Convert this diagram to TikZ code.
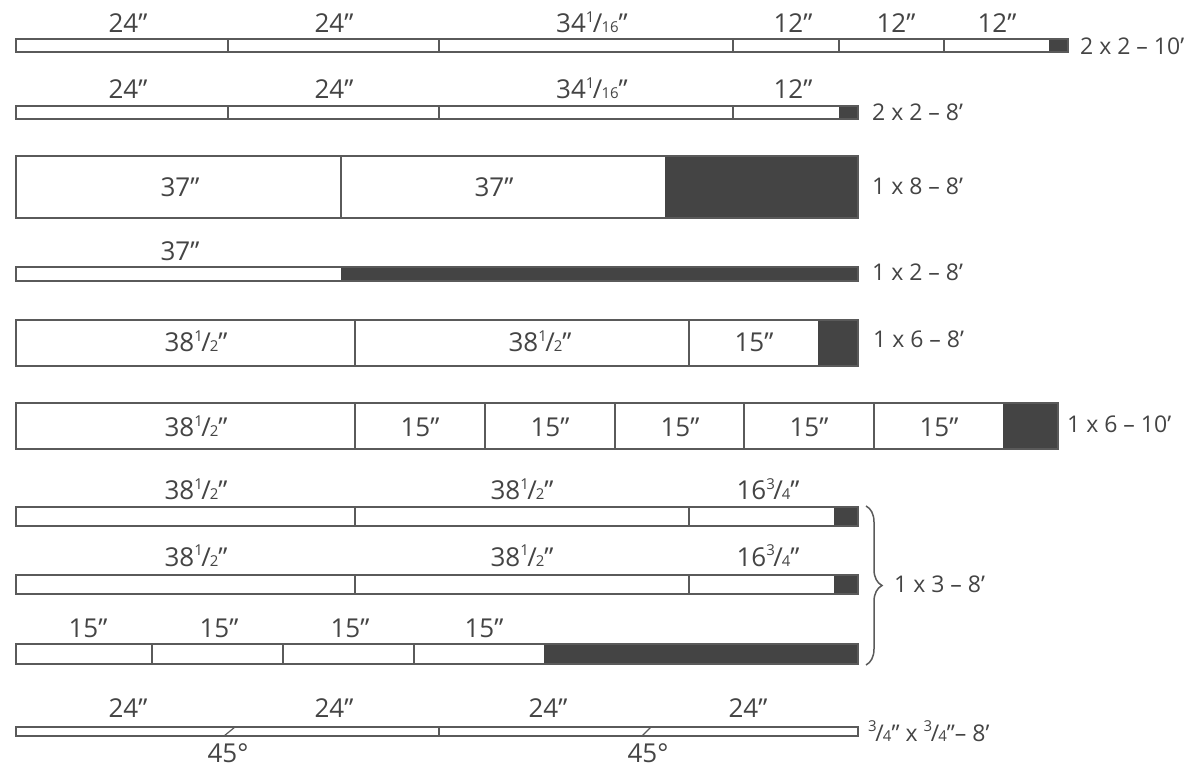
\documentclass[tikz,border=0pt]{standalone}
\usepackage{fontspec}
\setmainfont{Open Sans}
\usetikzlibrary{decorations.pathreplacing}
\definecolor{ink}{HTML}{444444}
\definecolor{edge}{HTML}{5A5A5A}
\tikzset{
  board/.style={draw=edge, line width=1.4pt, fill=white},
  cutline/.style={draw=edge, line width=1.2pt},
  endfill/.style={fill=ink, draw=ink, line width=0.6pt},
  len/.style={text=ink, font=\fontsize{26}{26}\selectfont, inner sep=0pt, anchor=base},
  tag/.style={text=ink, font=\fontsize{23}{23}\selectfont, inner sep=0pt, anchor=base west},
  bracestyle/.style={draw=edge, line width=1.5pt, decorate, decoration={brace, amplitude=16pt}},
}
\newcommand\myfr[2]{\raisebox{0.40em}{\fontsize{15}{15}\selectfont #1}\kern-0.06em/\kern-0.04em{\fontsize{15}{15}\selectfont #2}}
\newcommand\plank[4]{% y1, y2, xend, blackstart
  \draw[board] (16,#1) rectangle (#3,#2);
  \fill[endfill] (#4,#1) rectangle (#3,#2);
  \draw[board, fill=none] (16,#1) rectangle (#3,#2);
}
\begin{document}
\begin{tikzpicture}[x=1pt, y=-1pt]
\useasboundingbox (0,0) rectangle (1200,775);

% Row 1: 2x2-10'
\plank{39}{52}{1068}{1049}
\foreach \d in {228,439,733,839,944} \draw[cutline] (\d,39) -- (\d,52);
\node[len] (r1a) at (128,33) {24”};
\node[len] (r1b) at (334,33) {24”};
\node[len] (r1c) at (592,33) {34\myfr{1}{16}”};
\node[len] (r1d) at (793,33) {12”};
\node[len] (r1e) at (896,33) {12”};
\node[len] (r1f) at (997,33) {12”};
\node[tag] (t1) at (1080,55) {2 x 2 – 10’};

% Row 2: 2x2-8'
\plank{106}{119}{858}{839}
\foreach \d in {228,439,733} \draw[cutline] (\d,106) -- (\d,119);
\node[len] (r2a) at (128,99) {24”};
\node[len] (r2b) at (334,99) {24”};
\node[len] (r2c) at (592,99) {34\myfr{1}{16}”};
\node[len] (r2d) at (793,99) {12”};
\node[tag] (t2) at (872,121) {2 x 2 – 8’};

% Row 3: 1x8-8'
\plank{156}{218}{858}{665}
\draw[cutline] (341,156) -- (341,218);
\node[len] (r3a) at (180,197) {37”};
\node[len] (r3b) at (494,197) {37”};
\node[tag] (t3) at (872,195) {1 x 8 – 8’};

% Row 4: 1x2-8'
\plank{267}{281}{858}{341}
\node[len] (r4a) at (180,261) {37”};
\node[tag] (t4) at (872,281) {1 x 2 – 8’};

% Row 5: 1x6-8'
\plank{320}{366}{858}{818}
\foreach \d in {355,689} \draw[cutline] (\d,320) -- (\d,366);
\node[len] (r5a) at (196,352) {38\myfr{1}{2}”};
\node[len] (r5b) at (540,352) {38\myfr{1}{2}”};
\node[len] (r5c) at (754,352) {15”};
\node[tag] (t5) at (873,348) {1 x 6 – 8’};

% Row 6: 1x6-10'
\plank{403}{449}{1058}{1003}
\foreach \d in {355,485,615,744,874} \draw[cutline] (\d,403) -- (\d,449);
\node[len] (r6a) at (196,437) {38\myfr{1}{2}”};
\node[len] (r6b) at (420,437) {15”};
\node[len] (r6c) at (550,437) {15”};
\node[len] (r6d) at (680,437) {15”};
\node[len] (r6e) at (809,437) {15”};
\node[len] (r6f) at (939,437) {15”};
\node[tag] (t6) at (1067,433) {1 x 6 – 10’};

% Row 7
\plank{507}{526}{858}{834}
\foreach \d in {355,689} \draw[cutline] (\d,507) -- (\d,526);
\node[len] (r7a) at (196,500) {38\myfr{1}{2}”};
\node[len] (r7b) at (522,500) {38\myfr{1}{2}”};
\node[len] (r7c) at (768,500) {16\myfr{3}{4}”};

% Row 8
\plank{575}{594}{858}{834}
\foreach \d in {355,689} \draw[cutline] (\d,575) -- (\d,594);
\node[len] (r8a) at (196,566) {38\myfr{1}{2}”};
\node[len] (r8b) at (522,566) {38\myfr{1}{2}”};
\node[len] (r8c) at (768,566) {16\myfr{3}{4}”};

% Row 9
\plank{644}{664}{858}{544}
\foreach \d in {152,283,414} \draw[cutline] (\d,644) -- (\d,664);
\node[len] (r9a) at (88,637) {15”};
\node[len] (r9b) at (219,637) {15”};
\node[len] (r9c) at (350,637) {15”};
\node[len] (r9d) at (484,637) {15”};

% Brace and tag for rows 7-9
\coordinate (bt) at (866,506);
\coordinate (bb) at (866,665);
\draw[bracestyle] (bt) -- (bb);
\node[tag] (t7) at (894,592) {1 x 3 – 8’};

% Row 10: 3/4 x 3/4 - 8'
\draw[board] (16,727) rectangle (858,736);
\draw[cutline] (439,727) -- (439,736);
\draw[cutline] (224,736) -- (235,727);
\draw[cutline] (642,736) -- (651,727);
\node[len] (r10a) at (128,717) {24”};
\node[len] (r10b) at (334,717) {24”};
\node[len] (r10c) at (548,717) {24”};
\node[len] (r10d) at (748,717) {24”};
\node[len] (g1) at (228,762) {45°};
\node[len] (g2) at (648,762) {45°};
\node[tag] (t10) at (868,741) {\myfr{3}{4}” x \myfr{3}{4}”– 8’};
\end{tikzpicture}
\end{document}
